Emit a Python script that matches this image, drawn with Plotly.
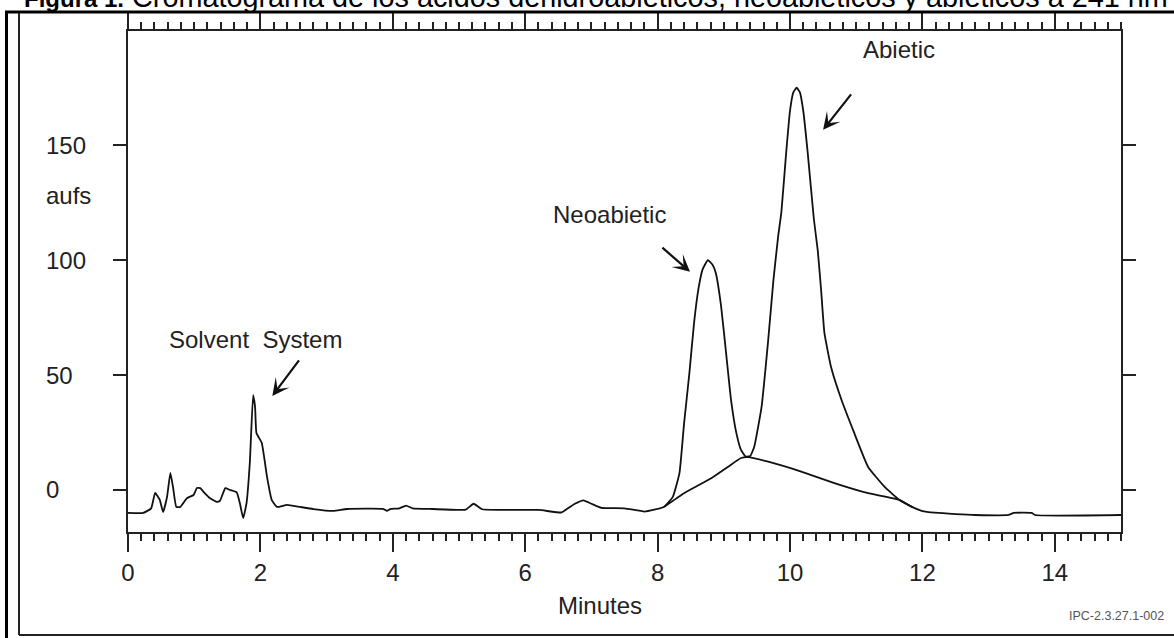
import plotly.graph_objects as go

# ---- data ----
time_min = [0.0, 0.23, 0.35, 0.41, 0.48, 0.53, 0.59, 0.64, 0.68, 0.73, 0.79, 0.89, 0.99, 1.04,
            1.09, 1.14, 1.24, 1.34, 1.39, 1.47, 1.54, 1.64, 1.69, 1.74, 1.79, 1.84, 1.89, 1.92,
            1.94, 2.02, 2.10, 2.17, 2.25, 2.40, 2.60, 2.80, 3.10, 3.31, 3.86, 3.91, 3.96, 4.10,
            4.20, 4.30, 4.60, 5.10, 5.22, 5.35, 5.60, 6.20, 6.55, 6.62, 6.75, 6.88, 7.00, 7.15,
            7.50, 7.80, 7.95, 8.10, 8.23, 8.33, 8.40, 8.48, 8.55, 8.62, 8.68, 8.76, 8.83, 8.88,
            8.96, 9.04, 9.11, 9.19, 9.26, 9.33, 9.40, 9.46, 9.57, 9.67, 9.75, 9.82, 9.87, 9.94,
            10.00, 10.05, 10.10, 10.15, 10.20, 10.27, 10.36, 10.42, 10.47, 10.52, 10.62, 10.78,
            10.97, 11.18, 11.43, 11.65, 11.85, 12.00, 12.19, 12.50, 12.80, 13.30, 13.38, 13.65,
            13.70, 15.0]
signal = [-10.0, -10.0, -8.0, -1.3, -4.3, -9.6, -3.0, 7.4, 1.3, -7.4, -7.4, -3.6, -2.2, 0.8,
          0.8, -0.8, -3.6, -5.2, -4.7, 0.8, 0.0, -1.0, -5.8, -12.3, -5.8, 11.7, 41.3, 36.0,
          24.8, 20.5, 5.7, -4.3, -7.4, -6.5, -7.4, -8.3, -9.1, -8.3, -8.3, -9.1, -8.3, -8.0,
          -6.8, -8.0, -8.3, -8.6, -6.0, -8.4, -8.7, -8.7, -9.8, -8.5, -6.0, -4.5, -6.0, -7.8,
          -8.0, -9.4, -8.6, -7.3, -3.0, 7.3, 29.0, 50.8, 72.5, 88.0, 96.0, 100.0, 98.0, 94.3,
          79.8, 58.0, 39.0, 24.7, 17.4, 14.5, 14.8, 18.8, 36.0, 65.0, 91.4, 110.0, 121.0, 146.0,
          165.0, 173.0, 175.0, 173.0, 165.0, 146.0, 118.0, 104.0, 87.0, 68.3, 53.5, 39.0,
          24.8, 10.0, 1.3, -4.3, -7.5, -9.2, -9.9, -10.5, -10.9, -10.9, -10.0, -10.0,
          -10.9, -10.9]

# drop-line (baseline) under the resin-acid peaks
base_time = [8.10, 8.40, 8.81, 9.06, 9.26, 9.37, 9.67, 10.17, 10.67, 11.18, 11.65, 11.85]
base_signal = [-7.3, -1.4, 5.1, 10.0, 13.9, 14.3, 12.3, 8.0, 3.0, -1.4, -4.3, -7.5]

x_ticks = [0, 2, 4, 6, 8, 10, 12, 14]
y_ticks = [0, 50, 100, 150]

# peak labels and their arrows
peak_labels = ["Solvent  System", "Neoabietic", "Abietic"]
label_x = [1.92, 7.28, 11.65]
label_y = [65.3, 119.7, 191.5]
tail_x = [2.60, 8.05, 10.94]
tail_y = [57.0, 106.0, 172.8]
head_x = [2.18, 8.49, 10.50]
head_y = [40.9, 94.9, 156.7]

title_bold = "Figura 1."
title_rest = ("Cromatograma de los ácidos dehidroabiéticos, "
              "neoabiéticos y abiéticos a 241 nm")

W, H = 1174, 638
ML, MR, MT, MB = 128, 53, 31, 106
PW, PH = W - ML - MR, H - MT - MB


def px(xp):
    return (xp - ML) / PW


def py(yp):
    return (H - MB - yp) / PH


FONT = "Liberation Sans, Arial, sans-serif"
INK = "#111111"
TXT = "#222222"
FS = 24

fig = go.Figure()
fig.add_trace(go.Scatter(x=time_min, y=signal, mode="lines",
                         line=dict(color=INK, width=1.8, shape="spline", smoothing=0.4),
                         showlegend=False))
fig.add_trace(go.Scatter(x=base_time, y=base_signal, mode="lines",
                         line=dict(color=INK, width=1.8, shape="spline", smoothing=0.4),
                         showlegend=False))

annotations = []
for t, lx, ly, tx, ty, hx, hy in zip(peak_labels, label_x, label_y, tail_x, tail_y, head_x, head_y):
    annotations.append(dict(x=lx, y=ly, xref="x", yref="y", text=t, showarrow=False,
                            xanchor="center", yanchor="middle",
                            font=dict(family=FONT, size=FS, color=TXT)))
    annotations.append(dict(x=hx, y=hy, xref="x", yref="y", ax=tx, ay=ty, axref="x", ayref="y",
                            text="", showarrow=True, arrowhead=3, arrowsize=1.3, arrowwidth=2.2,
                            arrowcolor=INK))

for v in y_ticks:
    annotations.append(dict(x=px(44), y=v, xref="paper", yref="y", text=str(v), showarrow=False,
                            xanchor="left", yanchor="middle",
                            font=dict(family=FONT, size=FS, color=TXT)))

annotations.append(dict(x=px(68), y=py(195), xref="paper", yref="paper", text="aufs",
                        showarrow=False, xanchor="center", yanchor="middle",
                        font=dict(family=FONT, size=FS, color=TXT)))
annotations.append(dict(x=px(600), y=py(605), xref="paper", yref="paper", text="Minutes",
                        showarrow=False, xanchor="center", yanchor="middle",
                        font=dict(family=FONT, size=FS, color=TXT)))
annotations.append(dict(x=px(1166), y=py(616), xref="paper", yref="paper", text="IPC-2.3.27.1-002",
                        showarrow=False, xanchor="right", yanchor="middle",
                        font=dict(family=FONT, size=12.5, color="#555")))
annotations.append(dict(x=px(22), y=py(15), xref="paper", yref="paper",
                        text='<span style="font-size:24px"><b>' + title_bold + '</b></span> '
                             + title_rest,
                        showarrow=False, xanchor="left", yanchor="bottom",
                        font=dict(family=FONT, size=28.8, color="#000")))

shapes = [
    dict(type="line", xref="paper", yref="paper", x0=px(6.5), x1=px(6.5), y0=py(11), y1=py(640),
         line=dict(color="#000", width=3)),
    dict(type="line", xref="paper", yref="paper", x0=px(5), x1=px(1180), y0=py(12), y1=py(12),
         line=dict(color="#000", width=3)),
    dict(type="line", xref="paper", yref="paper", x0=px(19), x1=px(19), y0=py(13), y1=py(635),
         line=dict(color="#222", width=2)),
    dict(type="line", xref="paper", yref="paper", x0=px(19), x1=px(1180), y0=py(635), y1=py(635),
         line=dict(color="#222", width=2)),
]

fig.update_layout(
    width=W, height=H,
    margin=dict(l=ML, r=MR, t=MT, b=MB, pad=0),
    paper_bgcolor="white", plot_bgcolor="white",
    font=dict(family=FONT, size=FS, color=TXT),
    annotations=annotations, shapes=shapes,
    showlegend=False,
)
fig.update_xaxes(
    range=[0, 15], tickvals=x_ticks, ticks="outside", ticklen=18, tickwidth=2, tickcolor="#222",
    showline=True, linewidth=2, linecolor="#222", mirror="ticks",
    showgrid=False, zeroline=False, ticklabelstandoff=0,
    tickfont=dict(family=FONT, size=FS, color=TXT),
    minor=dict(dtick=0.2, tick0=0, ticks="outside", ticklen=7, tickwidth=1.5, tickcolor="#222",
               showgrid=False),
)
fig.update_yaxes(
    range=[-18.3, 199.7], tickvals=y_ticks, ticks="outside", ticklen=13, tickwidth=2,
    tickcolor="#222", showline=True, linewidth=2, linecolor="#222", mirror="ticks",
    showgrid=False, zeroline=False, showticklabels=False,
)

fig.write_html("out.html", config={"displayModeBar": False},
               post_script="document.body.style.margin='0px';")
